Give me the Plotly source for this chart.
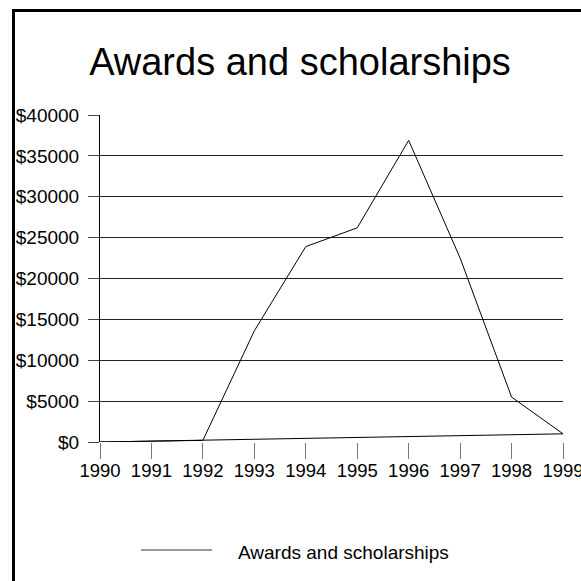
import plotly.graph_objects as go

years = [1990, 1991, 1992, 1993, 1994, 1995, 1996, 1997, 1998, 1999, 1990]
awards = [0, 100, 200, 13600, 23900, 26200, 36900, 22500, 5500, 1000, 0]
y_ticks = [0, 5000, 10000, 15000, 20000, 25000, 30000, 35000, 40000]
y_tick_labels = ["$" + str(v) for v in y_ticks]
x_ticks = list(range(1990, 2000))
series_name = "Awards and scholarships"
title_text = "Awards and scholarships"

FONT = "Liberation Sans Narrow, Arial Narrow, Liberation Sans, Arial, sans-serif"

W = H = 581
L, R, T, B = 100, 18, 115, 139
pw, ph = W - L - R, H - T - B

def px_x(p):
    return (p - L) / pw

def px_y(p):
    return (H - B - p) / ph

fig = go.Figure()
fig.add_trace(go.Scatter(x=years, y=awards, mode="lines",
                         line=dict(color="black", width=1),
                         name=series_name, showlegend=False))

fig.update_layout(
    width=W, height=H,
    margin=dict(l=L, r=R, t=T, b=B, autoexpand=False),
    paper_bgcolor="white", plot_bgcolor="white",
    font=dict(family=FONT, color="black", size=19),
    title=dict(text=title_text, x=300 / W, xanchor="center",
               y=1 - 62 / H, yanchor="middle", yref="container",
               font=dict(family=FONT, size=38, color="black")),
    xaxis=dict(range=[1990, 1999], tickvals=x_ticks, ticktext=[str(v) for v in x_ticks],
               showgrid=False, zeroline=False, showline=False, automargin=False,
               ticks="outside", ticklen=16, tickcolor="#777", tickwidth=1,
               tickfont=dict(size=18.5), ticklabelstandoff=-4, ticklabeloverflow="allow"),
    yaxis=dict(range=[0, 40000], tickvals=y_ticks, ticktext=y_tick_labels,
               showgrid=True, gridcolor="#222", gridwidth=1, automargin=False,
               zeroline=False, showline=True, linecolor="black", linewidth=1,
               ticks="outside", ticklen=11, tickcolor="#444", tickwidth=1,
               tickfont=dict(size=19), ticklabelstandoff=5, ticklabeloverflow="allow"),
    showlegend=False,
)

# frame around the figure
fig.add_shape(type="rect", xref="paper", yref="paper",
              x0=px_x(13.5), x1=px_x(700), y0=px_y(700), y1=px_y(10.5),
              line=dict(color="black", width=3), fillcolor="rgba(0,0,0,0)", layer="above")

# legend drawn manually
fig.add_shape(type="line", xref="paper", yref="paper",
              x0=px_x(141), x1=px_x(212), y0=px_y(550), y1=px_y(550),
              line=dict(color="#333", width=1))
fig.add_annotation(xref="paper", yref="paper", x=px_x(236), y=px_y(552),
                   xanchor="left", yanchor="middle", showarrow=False,
                   text=series_name, font=dict(family=FONT, size=19, color="black"))

fig.write_html("out.html")
